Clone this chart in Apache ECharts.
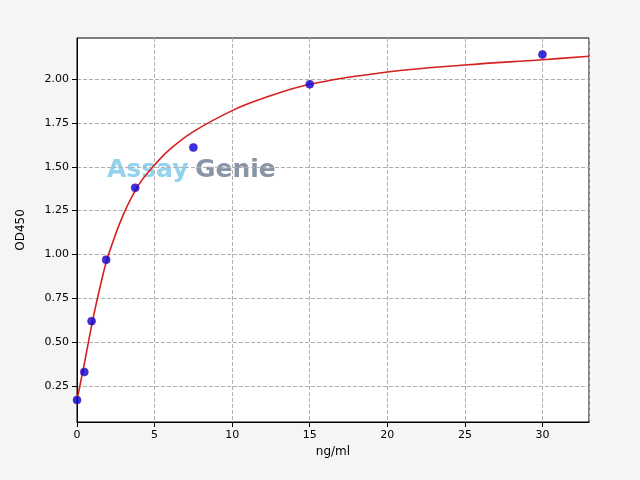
<!DOCTYPE html>
<html><head><meta charset="utf-8">
<script src="https://cdn.jsdelivr.net/npm/echarts@6/dist/echarts.min.js"></script>
<style>body{margin:0;background:#f5f5f5}#c{width:640px;height:480px}</style>
</head><body><div id="c"></div>
<script>
// measured standards
var conc = [0, 0.47, 0.94, 1.88, 3.75, 7.5, 15, 30]
var od = [0.17, 0.33, 0.62, 0.97, 1.38, 1.61, 1.97, 2.14]
// fitted curve
var fitX = [0, 0.25, 0.5, 1, 1.5, 2, 3, 4, 5, 6, 7.5, 10, 12, 15, 20, 25, 30, 33]
var fitY = [0.17, 0.28, 0.39, 0.62, 0.82, 0.99, 1.23, 1.40, 1.51, 1.60, 1.70, 1.82, 1.89, 1.97, 2.04, 2.08, 2.11, 2.13]
var yTicks = [0.25, 0.5, 0.75, 1.0, 1.25, 1.5, 1.75, 2.0]

var chart = echarts.init(document.getElementById("c"))
var font = "DejaVu Sans"
chart.setOption({
  backgroundColor: "#f5f5f5",
  animation: false,
  textStyle: {fontFamily: font},
  grid: {left: 77, right: 51, top: 38, bottom: 58, show: true, backgroundColor: "#fff", borderColor: "#000", borderWidth: 1},
  graphic: [
    {type: "text", left: 107, top: 158, style: {text: "Assay", fill: "#87ceeb", font: "bold 25px " + font, opacity: 0.9}},
    {type: "text", left: 195, top: 158, style: {text: "Genie", fill: "#7b8a9a", font: "bold 25px " + font, opacity: 0.9}}
  ],
  xAxis: {
    type: "value", min: 0, max: 33, interval: 5,
    name: "ng/ml", nameLocation: "middle", nameGap: 24, nameTextStyle: {color: "#000", fontSize: 12},
    axisLine: {onZero: false, lineStyle: {color: "#000"}},
    axisTick: {lineStyle: {color: "#000"}},
    axisLabel: {color: "#000", fontSize: 11, showMaxLabel: false},
    splitLine: {show: true, lineStyle: {color: "#b0b0b0", type: "dashed"}}
  },
  yAxis: {
    type: "value", min: 0.045, max: 2.234,
    name: "OD450", nameLocation: "middle", nameGap: 50, nameTextStyle: {color: "#000", fontSize: 12},
    axisLine: {show: true, onZero: false, lineStyle: {color: "#000"}},
    axisTick: {show: true, customValues: yTicks, lineStyle: {color: "#000"}},
    axisLabel: {color: "#000", fontSize: 11, customValues: yTicks, formatter: v => v.toFixed(2)},
    splitLine: {show: true, lineStyle: {color: "#b0b0b0", type: "dashed"}}
  },
  series: [
    {type: "line", data: fitX.map((x, i) => [x, fitY[i]]), smooth: 0.4, showSymbol: false, lineStyle: {color: "#d62020", width: 1.6}, z: 2},
    {type: "scatter", data: conc.map((x, i) => [x, od[i]]), symbolSize: 8, itemStyle: {color: "#0000dd", borderColor: "#6a1a9a", borderWidth: 0.8}, z: 3}
  ]
})
</script></body></html>
